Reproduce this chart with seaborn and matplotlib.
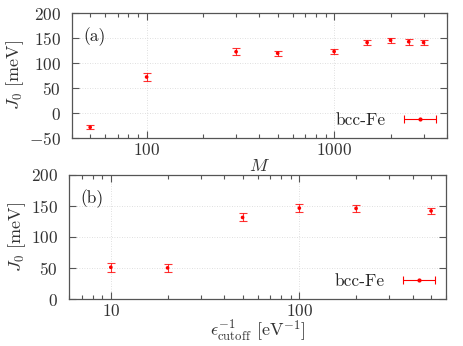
import numpy as np
import pandas as pd
import seaborn as sns
import matplotlib
matplotlib.use("Agg")
import matplotlib.pyplot as plt
from matplotlib.ticker import LogLocator, FuncFormatter, NullFormatter
from matplotlib.legend_handler import HandlerErrorbar

# ---- data ----
M_vals = [50, 100, 300, 500, 1000, 1500, 2000, 2500, 3000]
J0_M = [-28.6, 72, 122.5, 119.5, 123, 141, 145.5, 142.5, 141]
J0_M_err = [4, 8.5, 7, 5, 5, 5, 5, 6, 5]

eps_vals = [10, 20, 50, 100, 200, 500]
J0_eps = [51, 50, 131, 146, 145.5, 141.5]
J0_eps_err = [7, 7, 6.5, 6, 5, 4.5]

label = "bcc-Fe"

sns.set_theme(style="ticks")
plt.rcParams.update({
    "font.family": ["cmr10", "DejaVu Serif"],
    "mathtext.fontset": "cm",
    "axes.unicode_minus": False,
    "axes.formatter.use_mathtext": True,
    "font.size": 12.5,
    "axes.edgecolor": "#555555",
    "axes.linewidth": 0.9,
    "xtick.color": "#555555",
    "ytick.color": "#555555",
    "xtick.labelcolor": "#333333",
    "ytick.labelcolor": "#333333",
    "xtick.labelsize": 12.5,
    "ytick.labelsize": 12.5,
    "axes.labelsize": 13,
    "axes.labelcolor": "#333333",
})

red = "#ff0000"
fig = plt.figure(figsize=(4.64, 3.46), dpi=100)
ax1 = fig.add_axes([72/464, 1-138/346, (447-72)/464, (138-13)/346])
ax2 = fig.add_axes([69/464, 1-299/346, (446-69)/464, (299-174.5)/346])

fmt = FuncFormatter(lambda v, p: f"${v:g}$")

def panel(ax, x, y, err, xlim, ylim, yticks, xlabel, tag):
    df = pd.DataFrame({"x": x, "y": y})
    ax.set_xscale("log")
    ax.errorbar(x, y, yerr=err, fmt="none", ecolor=red, elinewidth=0.8,
                capsize=3, capthick=0.8, alpha=0.8, zorder=3)
    sns.scatterplot(data=df, x="x", y="y", ax=ax, color=red, s=7,
                    edgecolor="none", zorder=4, legend=False)
    ax.set_xlim(*xlim)
    ax.set_ylim(*ylim)
    ax.set_yticks(yticks)
    ax.xaxis.set_major_locator(LogLocator(base=10, numticks=10))
    ax.xaxis.set_minor_locator(LogLocator(base=10, subs=np.arange(2, 10), numticks=20))
    ax.xaxis.set_major_formatter(fmt)
    ax.xaxis.set_minor_formatter(NullFormatter())
    ax.yaxis.set_major_formatter(fmt)
    ax.tick_params(which="both", direction="in", top=True, right=True, width=0.8)
    ax.tick_params(which="major", length=5)
    ax.tick_params(axis="x", which="major", pad=3)
    ax.tick_params(axis="y", which="major", pad=8)
    ax.tick_params(which="minor", length=3)
    ax.grid(True, which="major", linestyle=(0, (1, 2)), color="#d5d5d5", linewidth=0.6)
    ax.set_axisbelow(True)
    ax.set_xlabel(xlabel, labelpad=0)
    ax.set_ylabel(r"$J_0$ [meV]", labelpad=2)
    ax.text(0.03, 0.81, tag, transform=ax.transAxes, fontsize=12.5, ha="left", va="center",
            color="#222222")
    # legend handle: horizontal error bar
    h = ax.errorbar([np.nan], [np.nan], xerr=[1], fmt="o", color=red, ms=2,
                    elinewidth=0.8, capsize=3, capthick=0.8)
    ax.legend([h], [label], loc="lower right", markerfirst=False, frameon=False,
              handlelength=2.0, fontsize=12.5, borderaxespad=0.15, handletextpad=1.0,
              handler_map={type(h): HandlerErrorbar(xerr_size=0.92)})

panel(ax1, M_vals, J0_M, J0_M_err, (40, 4000), (-50, 200), [-50, 0, 50, 100, 150, 200],
      r"$M$", "(a)")
panel(ax2, eps_vals, J0_eps, J0_eps_err, (6, 600), (0, 200), [0, 50, 100, 150, 200],
      r"$\epsilon_{\rm cutoff}^{-1}$ [eV$^{-1}$]", "(b)")

fig.savefig("out.png", dpi=100)
